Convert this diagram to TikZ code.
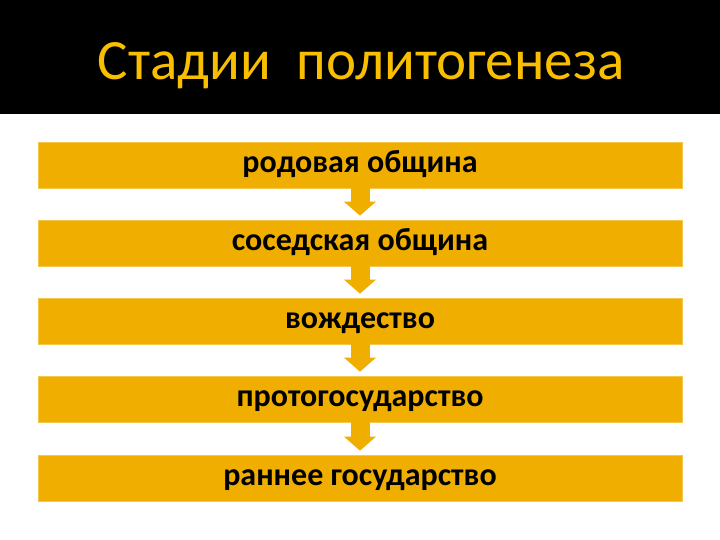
\documentclass[tikz,border=0pt]{standalone}
\usepackage{fontspec}
\setmainfont{Carlito}
\usetikzlibrary{arrows.meta}
\definecolor{bargold}{RGB}{239,174,0}
\definecolor{titlegold}{RGB}{248,190,0}
\tikzset{
  stage/.style={fill=bargold, draw=bargold!70!white, line width=0.6pt, minimum width=644pt, minimum height=46pt, inner sep=0pt,
    text height=15pt, text depth=0pt,
    font=\fontsize{32}{34}\selectfont\bfseries, text=black},
  flow/.style={bargold, line width=19pt, -{Triangle[width=31pt,length=14pt]}, shorten >=4pt}
}
\begin{document}
\begin{tikzpicture}[x=1pt,y=1pt]
\useasboundingbox (0,0) rectangle (720,-540);
\fill[white] (0,0) rectangle (720,-540);
\fill[black] (0,0) rectangle (720,-114);
\node[anchor=base, text=titlegold, font=\fontsize{57}{62}\selectfont] (title) at (361,-80) {Стадии\ \ политогенеза};
\node[stage] (s1) at (360,-165) {родовая община};
\node[stage] (s2) at (360,-243) {соседская община};
\node[stage] (s3) at (360,-321) {вождество};
\node[stage] (s4) at (360,-399) {протогосударство};
\node[stage] (s5) at (360,-478) {раннее государство};
\draw[flow] (s1.south) -- (s2.north);
\draw[flow] (s2.south) -- (s3.north);
\draw[flow] (s3.south) -- (s4.north);
\draw[flow] (s4.south) -- (s5.north);
\end{tikzpicture}
\end{document}
